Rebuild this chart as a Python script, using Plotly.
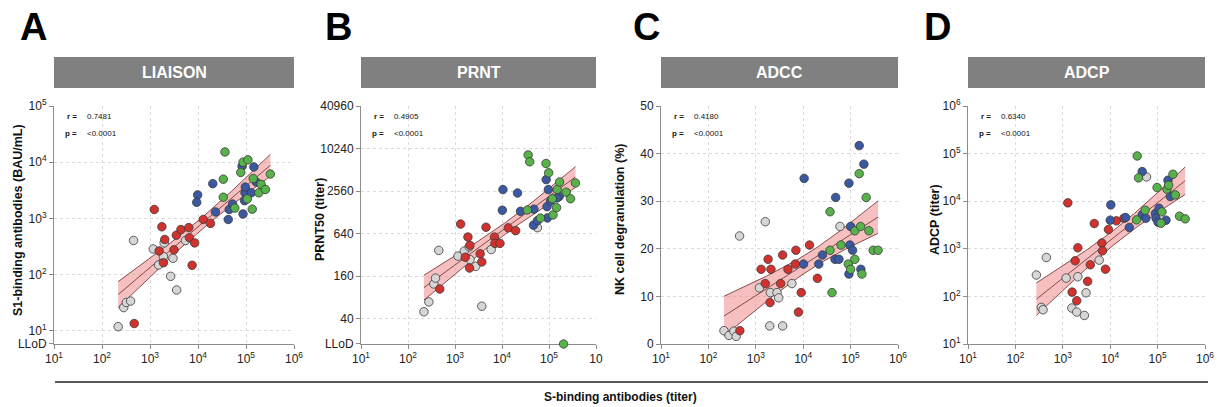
import numpy as np
import plotly.graph_objects as go

W, H = 1220, 407
FONT = "Arial, 'Liberation Sans', Helvetica, sans-serif"

# ---------------- DATA ----------------
# Shared x-axis ticks (S-binding antibodies, titer)
X_TICKS = [1e1, 1e2, 1e3, 1e4, 1e5, 1e6]
X_TICKTEXT = ["10<sup>1</sup>", "10<sup>2</sup>", "10<sup>3</sup>",
              "10<sup>4</sup>", "10<sup>5</sup>", "10<sup>6</sup>"]
X_TICKTEXT_B = X_TICKTEXT[:-1] + ["10"]

GROUP_COLORS = ["#d6d6d6", "#d2322d", "#3b58a3", "#58b24a"]  # grey, red, blue, green

# Panel A: LIAISON (S1-binding antibodies, BAU/mL)
A_grey_x = [217, 283, 321, 394, 455, 1170, 1507, 1905, 1972, 2692, 3013, 3589, 5495]
A_grey_y = [11.8, 25.8, 31.8, 33.7, 404, 285, 148, 209, 366, 93, 195, 53, 404]
A_red_x = [469, 1227, 1766, 2032, 1549, 1905, 3162, 3532, 4406, 6427, 6607, 7534, 8511, 12882, 18197]
A_red_y = [13.4, 1439, 708, 421, 263, 162, 275, 501, 631, 685, 452, 146, 366, 955, 813]
A_blue_x = [9840, 9397, 20324, 23067, 42658, 44668, 52481, 82794, 86696, 93325, 95280, 96828, 145881, 162929, 128825]
A_blue_y = [2618, 1928, 4150, 1303, 955, 1439, 1799, 8453, 1199, 2065, 2851, 3614, 8222, 4446, 2851]
A_green_x = [36475, 33651, 33651, 58479, 77625, 86696, 109648, 106414, 134896, 141254, 184927, 206538, 253513, 321366]
A_green_y = [15205, 4977, 2377, 1521, 6577, 10000, 11015, 2213, 1459, 5117, 2851, 4036, 3273, 6138]
A_yticks = [5.8, 1e1, 1e2, 1e3, 1e4, 1e5]
A_yticktext = ["LLoD", "10<sup>1</sup>", "10<sup>2</sup>", "10<sup>3</sup>", "10<sup>4</sup>", "10<sup>5</sup>"]
A_r, A_p = "0.7481", "<0.0001"

# Panel B: PRNT (PRNT50 titer)
B_grey_x = [218, 278, 354, 385, 452, 1156, 1574, 1995, 2089, 2754, 3715, 5888, 56754]
B_grey_y = [50, 69, 124, 150, 370, 307, 362, 416, 274, 220, 60, 380, 776]
B_red_x = [474, 1318, 1652, 1884, 2075, 2042, 3428, 3715, 4571, 6918, 7079, 9078, 13614, 19498]
B_red_y = [105, 873, 296, 572, 437, 208, 331, 254, 787, 572, 465, 465, 771, 704]
B_blue_x = [10162, 10471, 21380, 24774, 46774, 47863, 56754, 87096, 90782, 92257, 96828, 108393, 165196, 147911]
B_blue_y = [1370, 2684, 2402, 1323, 843, 1418, 975, 3717, 1541, 1067, 2684, 1845, 2150, 2048]
B_green_x = [35975, 38905, 34674, 65615, 86497, 98401, 121619, 117490, 145211, 149968, 167880, 232274, 287078, 365595, 204174]
B_green_y = [8307, 6654, 1380, 1060, 6295, 4640, 1176, 1992, 1489, 2702, 3444, 2469, 1992, 3326, 17.5]
B_LLOD = 17.5
B_yticks = [17.5, 40, 160, 640, 2560, 10240, 40960]
B_yticktext = ["LLoD", "40", "160", "640", "2560", "10240", "40960"]
B_r, B_p = "0.4905", "<0.0001"

# Panel C: ADCC (NK cell degranulation, %)
C_grey_x = [213, 272, 345, 386, 454, 1194, 1585, 1968, 2032, 2805, 3041, 3681, 5781, 59704]
C_grey_y = [2.8, 1.8, 2.7, 1.6, 22.7, 11.8, 25.7, 3.8, 10.8, 10.8, 9.7, 3.8, 12.7, 24.7]
C_red_x = [461, 1294, 1585, 1816, 2089, 1995, 3342, 3681, 4764, 6792, 7015, 7943, 9078, 13583, 19953]
C_red_y = [2.8, 15.7, 12.7, 17.8, 15.7, 8.7, 12.7, 18.7, 15.7, 16.8, 19.7, 6.7, 10.8, 20.8, 13.8]
C_blue_x = [10471, 10162, 21330, 25468, 48417, 46881, 56885, 92257, 92257, 100000, 96605, 110154, 152055, 190546, 164816]
C_blue_y = [34.8, 16.8, 16.8, 18.7, 30.8, 17.8, 17.8, 33.8, 14.7, 24.7, 20.8, 19.7, 41.7, 37.8, 15.7]
C_green_x = [36813, 36813, 40551, 62661, 89330, 100000, 123027, 123027, 152055, 162181, 172982, 213304, 242661, 299226, 380189]
C_green_y = [27.8, 19.7, 10.8, 20.8, 16.8, 15.7, 23.8, 17.8, 35.8, 24.7, 14.7, 30.8, 23.8, 19.7, 19.7]
C_yticks = [0, 10, 20, 30, 40, 50]
C_yticktext = ["0", "10", "20", "30", "40", "50"]
C_r, C_p = "0.4180", "<0.0001"

# Panel D: ADCP (titer)
D_grey_x = [277, 353, 383, 450, 1178, 1549, 1968, 2075, 2851, 3090, 5861, 58345]
D_grey_y = [281, 58.7, 52.5, 658, 243, 56.9, 46.9, 259, 39.8, 119, 578, 32359]
D_red_x = [1276, 1574, 1820, 2075, 1968, 3342, 3802, 4613, 6668, 6887, 7943, 9183, 13490, 19498]
D_red_y = [9226, 123, 560, 1050, 81, 207, 461, 3396, 1318, 908, 374, 2547, 3864, 4395]
D_blue_x = [10304, 10000, 21184, 25293, 47315, 47315, 56494, 89950, 92897, 102329, 107152, 150314, 165577, 185353]
D_blue_y = [8375, 3990, 4539, 2805, 41879, 5164, 4395, 5508, 4395, 3622, 7129, 3990, 27542, 12531]
D_green_x = [37154, 39628, 35975, 54702, 97499, 123880, 118032, 157761, 171002, 210863, 236048, 290402, 381944]
D_green_y = [89330, 30903, 4055, 6471, 19364, 5970, 3451, 17865, 21677, 36813, 13583, 4842, 4256]
D_yticks = [1e1, 1e2, 1e3, 1e4, 1e5, 1e6]
D_yticktext = ["10<sup>1</sup>", "10<sup>2</sup>", "10<sup>3</sup>", "10<sup>4</sup>", "10<sup>5</sup>", "10<sup>6</sup>"]
D_r, D_p = "0.6340", "<0.0001"

PANEL_LETTERS = ["A", "B", "C", "D"]
PANEL_TITLES = ["LIAISON", "PRNT", "ADCC", "ADCP"]
Y_TITLES = ["S1-binding antibodies (BAU/mL)", "PRNT50 (titer)", "NK cell degranulation (%)", "ADCP (titer)"]
X_TITLE = "S-binding antibodies (titer)"

# ---------------- LAYOUT GEOMETRY (pixels) ----------------
PLOT_X = [(54, 294), (361, 596), (661, 898), (968, 1205)]
PLOT_Y = (106, 344)
LETTER_X = [18, 323, 631, 922]
YTITLE_X = [18, 320, 620, 935]


def px(x):
    return x / W


def py(y):
    return 1 - y / H


panels = [
    dict(groups=[(A_grey_x, A_grey_y), (A_red_x, A_red_y), (A_blue_x, A_blue_y), (A_green_x, A_green_y)],
         ylog=True, yticks=A_yticks, ytext=A_yticktext, yrange=[np.log10(5.8) - 1e-4, 5.0001], r=A_r, p=A_p,
         xtext=X_TICKTEXT, exclude_below=None),
    dict(groups=[(B_grey_x, B_grey_y), (B_red_x, B_red_y), (B_blue_x, B_blue_y), (B_green_x, B_green_y)],
         ylog=True, yticks=B_yticks, ytext=B_yticktext, yrange=[np.log10(B_LLOD) - 1e-4, np.log10(40960) + 1e-4],
         r=B_r, p=B_p, xtext=X_TICKTEXT_B, exclude_below=B_LLOD + 0.1),
    dict(groups=[(C_grey_x, C_grey_y), (C_red_x, C_red_y), (C_blue_x, C_blue_y), (C_green_x, C_green_y)],
         ylog=False, yticks=C_yticks, ytext=C_yticktext, yrange=[0, 50.02], r=C_r, p=C_p,
         xtext=X_TICKTEXT, exclude_below=None),
    dict(groups=[(D_grey_x, D_grey_y), (D_red_x, D_red_y), (D_blue_x, D_blue_y), (D_green_x, D_green_y)],
         ylog=True, yticks=D_yticks, ytext=D_yticktext, yrange=[1 - 1e-4, 6.0001], r=D_r, p=D_p,
         xtext=X_TICKTEXT, exclude_below=None),
]

fig = go.Figure()
annotations = []
shapes = []

BAND_FILL = "rgba(238,140,140,0.55)"
LINE_COL = "#7a3a3a"

for i, pn in enumerate(panels):
    n = i + 1
    xa = "x" if n == 1 else f"x{n}"
    ya = "y" if n == 1 else f"y{n}"

    # regression (log10 x vs log10 y or linear y) with 95% CI of the mean
    allx = np.concatenate([np.asarray(g[0], float) for g in pn["groups"]])
    ally = np.concatenate([np.asarray(g[1], float) for g in pn["groups"]])
    if pn["exclude_below"] is not None:
        m = ally >= pn["exclude_below"]
        allx, ally = allx[m], ally[m]
    lx = np.log10(allx)
    ty = np.log10(ally) if pn["ylog"] else ally
    b, a = np.polyfit(lx, ty, 1)
    resid = ty - (a + b * lx)
    nn = len(lx)
    s = np.sqrt(np.sum(resid ** 2) / (nn - 2))
    sxx = np.sum((lx - lx.mean()) ** 2)
    gx = np.linspace(lx.min(), lx.max(), 80)
    fit = a + b * gx
    se = s * np.sqrt(1 / nn + (gx - lx.mean()) ** 2 / sxx)
    tcrit = 2.004
    up, lo = fit + tcrit * se, fit - tcrit * se
    inv = (lambda v: 10 ** v) if pn["ylog"] else (lambda v: v)
    X = 10 ** gx
    fig.add_trace(go.Scatter(x=np.concatenate([X, X[::-1]]), y=np.concatenate([inv(up), inv(lo)[::-1]]),
                             fill="toself", fillcolor=BAND_FILL, line=dict(width=0), mode="lines",
                             hoverinfo="skip", showlegend=False, xaxis=xa, yaxis=ya))
    for arr in (up, lo, fit):
        fig.add_trace(go.Scatter(x=X, y=inv(arr), mode="lines", line=dict(color=LINE_COL, width=0.9),
                                 hoverinfo="skip", showlegend=False, xaxis=xa, yaxis=ya))

    for (gx_, gy_), col in zip(pn["groups"], GROUP_COLORS):
        fig.add_trace(go.Scatter(x=gx_, y=gy_, mode="markers",
                                 marker=dict(size=8.5, color=col, line=dict(color="#3a3a3a", width=0.8)),
                                 cliponaxis=False, showlegend=False, xaxis=xa, yaxis=ya))

    x0, x1 = PLOT_X[i]
    common = dict(showline=True, linecolor="#8c8c8c", linewidth=1, ticks="outside", ticklen=4,
                  tickcolor="#8c8c8c", showgrid=True, gridcolor="#dadada", griddash="dot", gridwidth=1,
                  zeroline=False, tickfont=dict(family=FONT, size=12, color="#222"), mirror=False,
                  automargin=False, layer="below traces")
    fig.layout[f"xaxis{'' if n == 1 else n}"] = dict(
        type="log", range=[1 - 1e-4, 6.0001], tickmode="array", tickvals=X_TICKS, ticktext=pn["xtext"],
        domain=[px(x0), px(x1)], anchor=ya, **common)
    fig.layout[f"yaxis{'' if n == 1 else n}"] = dict(
        type="log" if pn["ylog"] else "linear", range=pn["yrange"], tickmode="array",
        tickvals=pn["yticks"], ticktext=pn["ytext"],
        domain=[py(PLOT_Y[1]), py(PLOT_Y[0])], anchor=xa, **common)

    # header bar
    shapes.append(dict(type="rect", xref="paper", yref="paper", x0=px(x0), x1=px(x1), y0=py(88), y1=py(57),
                       fillcolor="#808080", line=dict(width=0), layer="below"))
    annotations.append(dict(x=px((x0 + x1) / 2), y=py(72.5), xref="paper", yref="paper", text=f"<b>{PANEL_TITLES[i]}</b>",
                            showarrow=False, font=dict(family=FONT, size=16, color="white"),
                            xanchor="center", yanchor="middle"))
    # panel letter
    annotations.append(dict(x=px(LETTER_X[i]), y=py(27), xref="paper", yref="paper", text=f"<b>{PANEL_LETTERS[i]}</b>",
                            showarrow=False, font=dict(family=FONT, size=38, color="black"),
                            xanchor="left", yanchor="middle"))
    # y title
    annotations.append(dict(x=px(YTITLE_X[i]), y=py(220), xref="paper", yref="paper", text=f"<b>{Y_TITLES[i]}</b>",
                            showarrow=False, textangle=-90, font=dict(family=FONT, size=12.5, color="#111"),
                            xanchor="center", yanchor="middle"))
    # r / p
    for yy, lab, val in ((116, "r =", pn["r"]), (133, "p =", pn["p"])):
        annotations.append(dict(x=px(x0 + 25), y=py(yy), xref="paper", yref="paper", text=f"<b>{lab}</b>",
                                showarrow=False, font=dict(family=FONT, size=8, color="#111"),
                                xanchor="right", yanchor="middle"))
        annotations.append(dict(x=px(x0 + 31), y=py(yy), xref="paper", yref="paper", text=val,
                                showarrow=False, font=dict(family=FONT, size=8, color="#111"),
                                xanchor="left", yanchor="middle"))

# shared bottom rule and x title
shapes.append(dict(type="line", xref="paper", yref="paper", x0=px(55), x1=px(1208), y0=py(382), y1=py(382),
                   line=dict(color="#222", width=1.5)))
annotations.append(dict(x=px(620), y=py(397), xref="paper", yref="paper", text=f"<b>{X_TITLE}</b>",
                        showarrow=False, font=dict(family=FONT, size=12, color="#111"),
                        xanchor="center", yanchor="middle"))

fig.update_layout(width=W, height=H, margin=dict(l=0, r=0, t=0, b=0, pad=0, autoexpand=False),
                  plot_bgcolor="white", paper_bgcolor="white", showlegend=False,
                  annotations=annotations, shapes=shapes, font=dict(family=FONT))

fig.write_html("out.html", config={"displayModeBar": False},
               post_script="document.body.style.margin='0';document.body.style.overflow='hidden';")
